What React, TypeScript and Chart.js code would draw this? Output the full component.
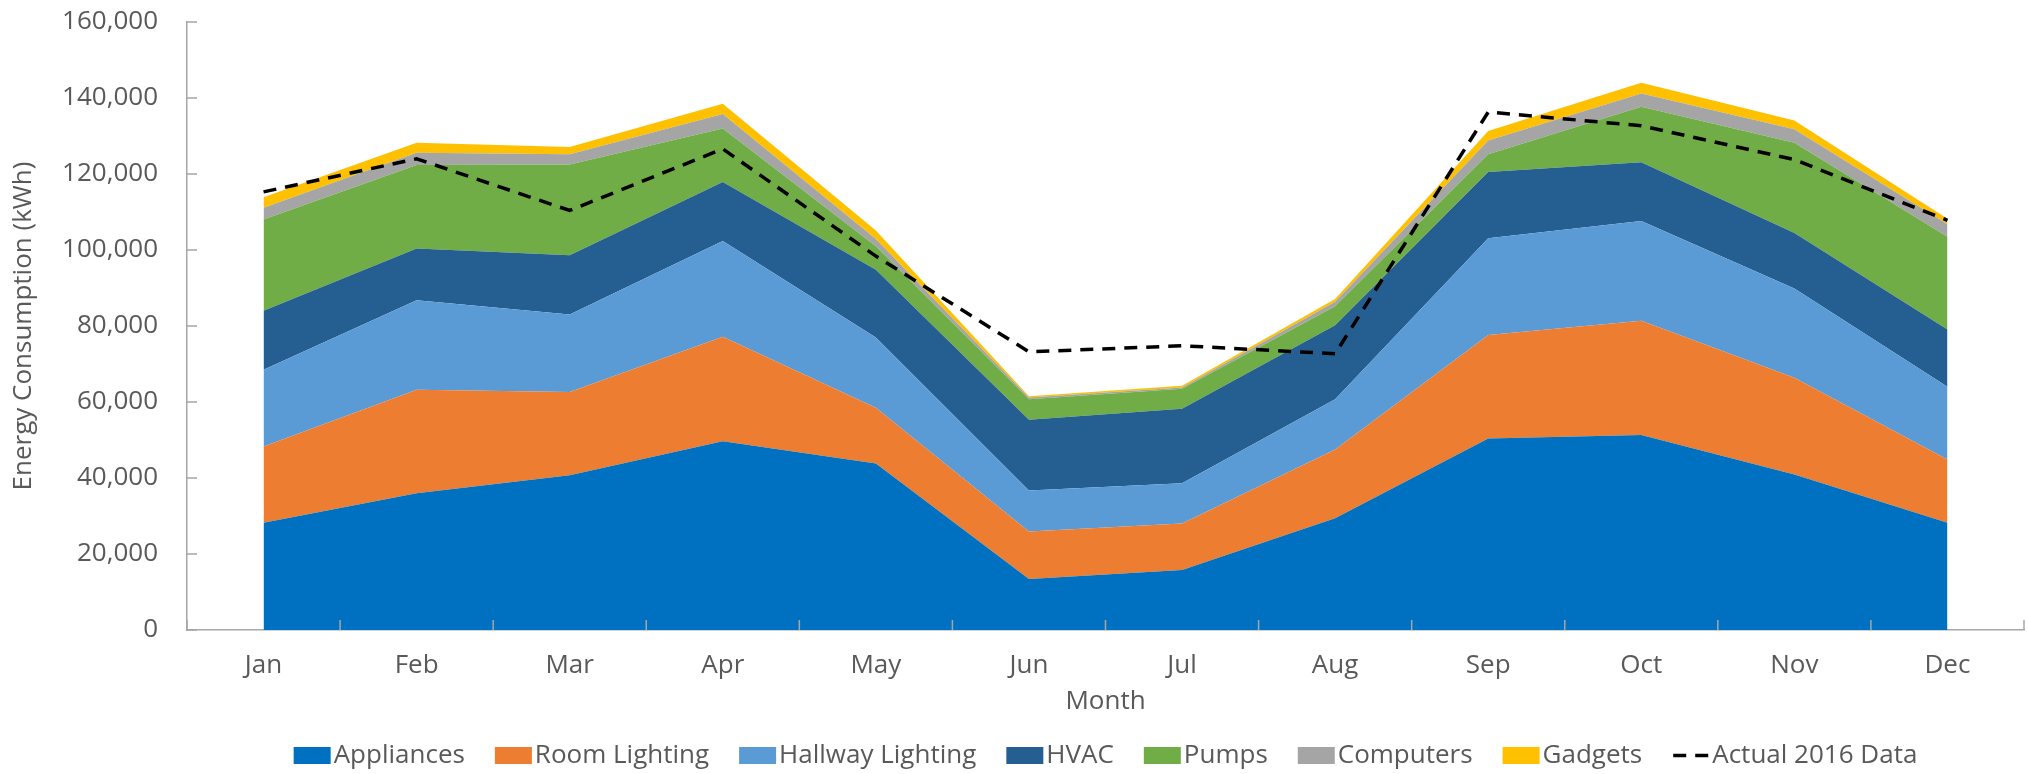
import React, { useEffect, useRef } from 'react';
import { Chart, registerables } from 'chart.js';

Chart.register(...registerables);

const months = ['Jan', 'Feb', 'Mar', 'Apr', 'May', 'Jun', 'Jul', 'Aug', 'Sep', 'Oct', 'Nov', 'Dec'];

const appliances = [28200, 36000, 40700, 49700, 43800, 13400, 15800, 29400, 50400, 51300, 40900, 28200];
const roomLighting = [20100, 27200, 21900, 27500, 14700, 12500, 12200, 18100, 27200, 30100, 25500, 16700];
const hallwayLighting = [20200, 23600, 20400, 25200, 18500, 10800, 10600, 13200, 25500, 26200, 23500, 19100];
const hvac = [15500, 13600, 15600, 15500, 17800, 18600, 19600, 19500, 17400, 15500, 14600, 15100];
const pumps = [24000, 22000, 23900, 14100, 6200, 5400, 5300, 5000, 4700, 14600, 23700, 24400];
const computers = [3100, 3200, 2700, 3800, 1900, 500, 300, 1200, 3600, 3500, 3600, 3300];
const gadgets = [2800, 2600, 1900, 2700, 2200, 300, 500, 700, 2500, 2800, 2300, 1400];
const actual2016 = [115300, 124000, 110400, 126600, 98400, 73200, 74800, 72700, 136300, 132700, 123800, 107800];

const seriesNames = ['Appliances', 'Room Lighting', 'Hallway Lighting', 'HVAC', 'Pumps', 'Computers', 'Gadgets'];
const seriesValues = [appliances, roomLighting, hallwayLighting, hvac, pumps, computers, gadgets];
const seriesColors = ['#0070C0', '#ED7D31', '#5B9BD5', '#255E91', '#70AD47', '#A5A5A5', '#FFC000'];
const actualName = 'Actual 2016 Data';

const yTicks = [0, 20000, 40000, 60000, 80000, 100000, 120000, 140000, 160000];

const TEXT_COLOR = '#595959';
const AXIS_COLOR = '#A6A6A6';
const FONT_FAMILY = '"Open Sans", "Noto Sans", sans-serif';
const FONT_SIZE = 26;

const fmt = (v: number) => String(v).replace(/\B(?=(\d{3})+(?!\d))/g, ',');

const decorPlugin = {
  id: 'decor',
  afterDraw(chart: any) {
    const { ctx, chartArea: ca, scales } = chart;
    const xs = scales.x;
    const ys = scales.y;
    ctx.save();
    // inside tick marks
    ctx.strokeStyle = AXIS_COLOR;
    ctx.lineWidth = 1.5;
    ctx.beginPath();
    yTicks.forEach((v) => {
      const y = ys.getPixelForValue(v);
      ctx.moveTo(ca.left, y);
      ctx.lineTo(ca.left + 10, y);
    });
    for (let i = 0; i <= months.length; i++) {
      const x = xs.getPixelForValue(i - 0.5);
      ctx.moveTo(x, ca.bottom);
      ctx.lineTo(x, ca.bottom - 10);
    }
    ctx.stroke();

    // legend
    ctx.font = `${FONT_SIZE}px ${FONT_FAMILY}`;
    ctx.textBaseline = 'alphabetic';
    ctx.textAlign = 'left';
    const boxW = 37;
    const boxH = 17;
    const boxGap = 3;
    const itemGap = 30;
    const items = [
      ...seriesNames.map((n, i) => ({ label: n, color: seriesColors[i], dash: false })),
      { label: actualName, color: '#000', dash: true },
    ];
    const widths = items.map((it) => boxW + boxGap + ctx.measureText(it.label).width);
    const total = widths.reduce((a, b) => a + b, 0) + itemGap * (items.length - 1);
    let x = (ca.left + ca.right) / 2 - total / 2;
    const baseline = 763;
    const boxTop = 747;
    items.forEach((it, i) => {
      if (it.dash) {
        ctx.save();
        ctx.strokeStyle = '#000';
        ctx.lineWidth = 3.5;
        ctx.setLineDash([13, 9]);
        ctx.beginPath();
        ctx.moveTo(x + 1, boxTop + boxH / 2);
        ctx.lineTo(x + boxW, boxTop + boxH / 2);
        ctx.stroke();
        ctx.restore();
      } else {
        ctx.fillStyle = it.color;
        ctx.fillRect(x, boxTop, boxW, boxH);
      }
      ctx.fillStyle = TEXT_COLOR;
      ctx.fillText(it.label, x + boxW + boxGap, baseline);
      x += widths[i] + itemGap;
    });
    ctx.restore();
  },
};

export default function App() {
  const canvasRef = useRef<HTMLCanvasElement | null>(null);

  useEffect(() => {
    const canvas = canvasRef.current;
    if (!canvas) return;
    Chart.defaults.font.family = FONT_FAMILY;
    Chart.defaults.color = TEXT_COLOR;

    const datasets: any[] = seriesNames.map((name, i) => ({
      label: name,
      data: seriesValues[i],
      backgroundColor: seriesColors[i],
      borderColor: 'rgba(0,0,0,0)',
      borderWidth: 0,
      pointRadius: 0,
      pointHoverRadius: 0,
      fill: i === 0 ? 'origin' : '-1',
      stack: 'usage',
      tension: 0,
    }));
    datasets.push({
      label: actualName,
      data: actual2016,
      borderColor: '#000000',
      backgroundColor: '#000000',
      borderWidth: 3.5,
      borderDash: [13, 9],
      pointRadius: 0,
      pointHoverRadius: 0,
      fill: false,
      stack: 'actual',
      order: -1,
      tension: 0,
    });

    const chart = new Chart(canvas, {
      type: 'line',
      data: { labels: months, datasets },
      options: {
        animation: false,
        responsive: false,
        maintainAspectRatio: false,
        layout: { padding: { top: 22, right: 4, left: 0, bottom: 0 } },
        plugins: {
          legend: { display: false },
          tooltip: { enabled: false },
        },
        scales: {
          x: {
            offset: true,
            grid: { display: true, drawOnChartArea: false, drawTicks: false, offset: true },
            border: { display: true, color: AXIS_COLOR, width: 1.5 },
            ticks: {
              padding: 20,
              color: TEXT_COLOR,
              font: { size: FONT_SIZE, family: FONT_FAMILY },
              maxRotation: 0,
              autoSkip: false,
            },
            title: {
              display: true,
              text: 'Month',
              color: TEXT_COLOR,
              font: { size: FONT_SIZE, family: FONT_FAMILY },
              padding: { top: 0, bottom: 57 },
            },
            afterFit: (s: any) => {
              s.height = 144;
            },
          },
          y: {
            stacked: true,
            min: 0,
            max: 160000,
            grid: {
              display: true,
              drawOnChartArea: false,
              drawTicks: true,
              tickLength: 29,
              tickColor: 'rgba(0,0,0,0)',
            },
            border: { display: true, color: AXIS_COLOR, width: 1.5 },
            afterBuildTicks: (s: any) => {
              s.ticks = yTicks.map((v) => ({ value: v }));
            },
            ticks: {
              padding: 0,
              color: TEXT_COLOR,
              font: { size: FONT_SIZE, family: FONT_FAMILY },
              callback: (v: any) => fmt(Number(v)),
            },
            title: {
              display: true,
              text: 'Energy Consumption (kWh)',
              color: TEXT_COLOR,
              font: { size: FONT_SIZE, family: FONT_FAMILY },
              padding: { top: 8, bottom: 0 },
            },
            afterFit: (s: any) => {
              s.width = 187;
            },
          },
        },
      },
      plugins: [decorPlugin],
    });

    return () => {
      chart.destroy();
    };
  }, []);

  return (
    <div style={{ position: 'fixed', left: 0, top: 0, width: 2028, height: 774, background: '#fff' }}>
      <canvas ref={canvasRef} width={2028} height={774} style={{ display: 'block' }} />
    </div>
  );
}
